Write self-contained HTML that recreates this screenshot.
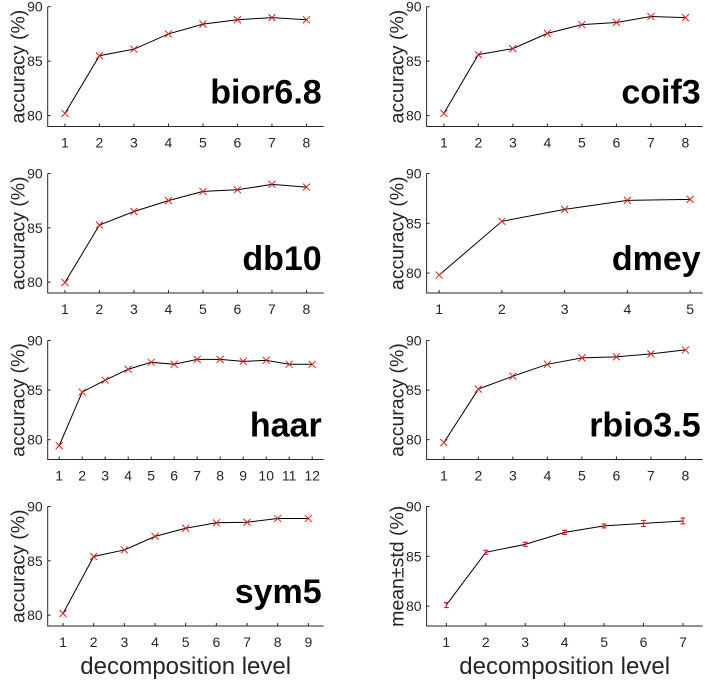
<!DOCTYPE html>
<html><head><meta charset="utf-8"><style>
html,body{margin:0;padding:0;background:#fff;}
svg{display:block;font-family:"Liberation Sans",Arial,sans-serif;}
</style></head><body>
<svg id="fig" width="705" height="682" viewBox="0 0 705 682"></svg>
<script>
const names = ["bior6.8","coif3","db10","dmey","haar","rbio3.5","sym5","mean"];
const vBior = [80.2,85.5,86.1,87.5,88.4,88.8,89.0,88.8];
const vCoif = [80.2,85.6,86.15,87.55,88.35,88.55,89.1,89.0];
const vDb = [79.97,85.26,86.5,87.5,88.35,88.5,89.0,88.75];
const vDmey = [79.8,85.2,86.4,87.3,87.4];
const vHaar = [79.4,84.8,86.0,87.1,87.8,87.6,88.1,88.1,87.9,88.0,87.6,87.6];
const vRbio = [79.7,85.1,86.4,87.6,88.25,88.35,88.65,89.05];
const vSym = [80.15,85.4,86.0,87.25,88.0,88.5,88.55,88.9,88.9];
const vMean = [80.1,85.4,86.2,87.4,88.05,88.3,88.55];
const vStd = [0.25,0.2,0.2,0.2,0.2,0.3,0.3];
const yTicks = [80,85,90];

const svg = document.getElementById('fig');
const NS = 'http://www.w3.org/2000/svg';
function mk(tag, attrs, parent){const e=document.createElementNS(NS,tag);for(const k in attrs)e.setAttribute(k,attrs[k]);(parent||svg).appendChild(e);return e;}

const tops=[6.7,173.5,340.5,506.5], bots=[126.5,293,459.5,626];
const cols=[{l:47.7,r:323.7},{l:426.6,r:702.7}];
const panels=[
 {v:vBior,lab:"bior6.8",row:0,col:0,ymin:79,xl:[0.5,8.5]},
 {v:vCoif,lab:"coif3",row:0,col:1,ymin:79,xl:[0.5,8.5]},
 {v:vDb,lab:"db10",row:1,col:0,ymin:79,xl:[0.5,8.5]},
 {v:vDmey,lab:"dmey",row:1,col:1,ymin:78,xl:[0.8,5.2]},
 {v:vHaar,lab:"haar",row:2,col:0,ymin:78,xl:[0.5,12.5]},
 {v:vRbio,lab:"rbio3.5",row:2,col:1,ymin:78,xl:[0.5,8.5]},
 {v:vSym,lab:"sym5",row:3,col:0,ymin:79,xl:[0.5,9.5]},
 {v:vMean,lab:null,row:3,col:1,ymin:78,xl:[0.5,7.5],std:vStd}
];
const tc='#262626';
panels.forEach((p,i)=>{
  const L=cols[p.col].l,R=cols[p.col].r,T=tops[p.row],B=bots[p.row];
  const g=mk('g',{});
  
  
  const x=v=>L+(v-p.xl[0])/(p.xl[1]-p.xl[0])*(R-L);
  const y=v=>B-(v-p.ymin)/(90-p.ymin)*(B-T);
  const ax=mk('path',{d:`M${L} ${T}V${B}H${R}`,stroke:tc,fill:'none','stroke-width':1},g);
  
  yTicks.forEach(t=>{
    mk('line',{x1:L,x2:L+3,y1:y(t),y2:y(t),stroke:tc},g);
    const tx=mk('text',{x:L-5,y:y(t)+5,'text-anchor':'end','font-size':14,fill:tc},g);
    tx.textContent=t;
    
  });
  p.v.forEach((_,k)=>{
    const xv=x(k+1);
    mk('line',{x1:xv,x2:xv,y1:B,y2:B-3,stroke:tc},g);
    const tx=mk('text',{x:xv,y:B+21,'text-anchor':'middle','font-size':14,fill:tc},g);
    tx.textContent=k+1;
    
  });
  const yl=mk('text',{transform:`translate(${L-23},${(T+B)/2}) rotate(-90)`,'text-anchor':'middle','font-size':19.5,fill:tc},g);
  yl.textContent=p.lab?'accuracy (%)':'mean\u00b1std (%)';
  
  const ln=mk('polyline',{points:p.v.map((v,k)=>x(k+1)+','+y(v)).join(' '),fill:'none',stroke:'#000','stroke-width':1},g);
  
  p.v.forEach((v,k)=>{
    const cx=x(k+1),cy=y(v);
    if(p.std){
      const s=p.std[k],e=mk('path',{d:`M${cx} ${y(v+s)}V${y(v-s)}M${cx-2.5} ${y(v+s)}H${cx+2.5}M${cx-2.5} ${y(v-s)}H${cx+2.5}`,stroke:'#d62728','stroke-width':1.2,fill:'none'},g);
      
    } else {
      const m=mk('path',{d:`M${cx-3.5} ${cy-3.5}L${cx+3.5} ${cy+3.5}M${cx-3.5} ${cy+3.5}L${cx+3.5} ${cy-3.5}`,stroke:'#e02020','stroke-width':1,fill:'none'},g);
      
    }
  });
  if(p.lab){
    const t=mk('text',{x:R-2,y:B-23,'text-anchor':'end','font-size':34,'font-weight':'bold',fill:'#000'},g);
    t.textContent=p.lab;
    
  }
  if(p.row===3){
    const t=mk('text',{x:(L+R)/2,y:674,'text-anchor':'middle','font-size':24,fill:tc},g);
    t.textContent='decomposition level';
    
  }
});
</script>
</body></html>
